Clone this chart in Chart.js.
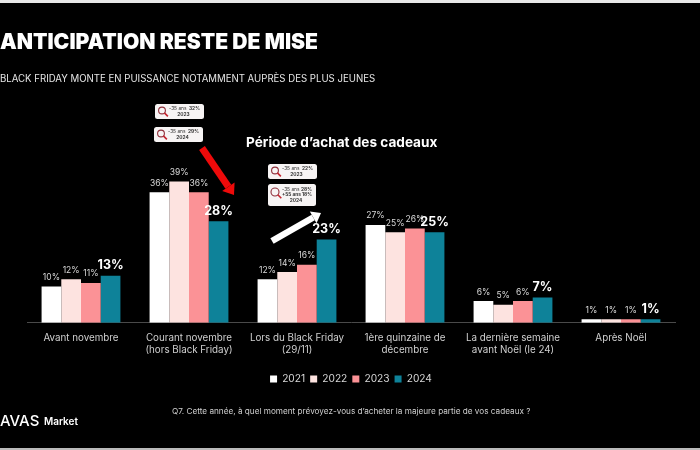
<!DOCTYPE html>
<html lang="fr">
<head>
<meta charset="utf-8">
<title>Période d'achat des cadeaux</title>
<script src="https://cdn.jsdelivr.net/npm/chart.js@4"></script>
<style>
    html, body { margin: 0; padding: 0; background: #000; }
    #page { position: relative; width: 700px; height: 450px; overflow: hidden; background: #000; font-family: Inter, sans-serif; color: #fff; }
    #page canvas { position: absolute; left: 0; top: 0; }
    .txt { position: absolute; white-space: nowrap; line-height: 1; }
    #edgeTop { position: absolute; left: 0; top: 0; width: 700px; height: 3px; background: #e8e8e8; }
    #edgeBottom { position: absolute; left: 0; top: 448px; width: 700px; height: 2px; background: #bbb; }
    #mainTitle { left: 0; top: 31px; font-size: 21.1px; font-weight: 900; }
    #subTitle { left: 0; top: 74px; font-size: 9.65px; color: #e6e6e6; }
    #chartTitle { left: 246px; top: 136px; font-size: 13.6px; font-weight: 700; }
    #question { left: 172px; top: 407px; font-size: 8.2px; color: #cfcfcf; }
    #logo { left: 0; top: 413px; font-size: 15px; font-weight: 500; }
    #logoSub { left: 44px; top: 416px; font-size: 10px; font-weight: 600; }
</style>
</head>
<body>
<div id="page">
    <canvas id="chartPeriode" width="700" height="450"></canvas>
    <div id="edgeTop"></div>
    <div id="edgeBottom"></div>
    <div class="txt" id="mainTitle">ANTICIPATION RESTE DE MISE</div>
    <div class="txt" id="subTitle">BLACK FRIDAY MONTE EN PUISSANCE NOTAMMENT AUPRÈS DES PLUS JEUNES</div>
    <div class="txt" id="chartTitle">Période d’achat des cadeaux</div>
    <div class="txt" id="question">Q7. Cette année, à quel moment prévoyez-vous d’acheter la majeure partie de vos cadeaux ?</div>
    <div class="txt" id="logo">AVAS</div>
    <div class="txt" id="logoSub">Market</div>
</div>
<script>
const categories = [
    'Avant novembre',
    ['Courant novembre', '(hors Black Friday)'],
    ['Lors du Black Friday', '(29/11)'],
    ['1ère quinzaine de', 'décembre'],
    ['La dernière semaine', 'avant Noël (le 24)'],
    'Après Noël'
];
const values2021 = [10, 36, 12, 27, 6, 1];
const values2022 = [12, 39, 14, 25, 5, 1];
const values2023 = [11, 36, 16, 26, 6, 1];
const values2024 = [13, 28, 23, 25, 7, 1];

const seriesColors = ['#ffffff', '#fde3e0', '#fb9296', '#0e8299'];

// Callouts next to the arrows
const callouts = [
    { x: 155, y: 104, w: 49, h: 15, lines: [['-35 ans', '32%'], ['2023']] },
    { x: 154, y: 127, w: 49, h: 15, lines: [['-35 ans', '29%'], ['2024']] },
    { x: 268, y: 164, w: 49, h: 15, lines: [['-35 ans', '22%'], ['2023']] },
    { x: 268, y: 184, w: 48, h: 22, lines: [['-35 ans', '28%'], ['+55 ans', '18%'], ['2024']] }
];

function drawArrow(ctx, x1, y1, x2, y2, width, head, color) {
    const a = Math.atan2(y2 - y1, x2 - x1);
    const bx = x2 - Math.cos(a) * head;
    const by = y2 - Math.sin(a) * head;
    ctx.strokeStyle = color;
    ctx.fillStyle = color;
    ctx.lineWidth = width;
    ctx.beginPath();
    ctx.moveTo(x1, y1);
    ctx.lineTo(bx, by);
    ctx.stroke();
    ctx.beginPath();
    ctx.moveTo(x2, y2);
    ctx.lineTo(bx - Math.sin(a) * head * 0.75, by + Math.cos(a) * head * 0.75);
    ctx.lineTo(bx + Math.sin(a) * head * 0.75, by - Math.cos(a) * head * 0.75);
    ctx.closePath();
    ctx.fill();
}

function drawCallout(ctx, c) {
    ctx.fillStyle = '#f7f4f4';
    ctx.beginPath();
    ctx.roundRect(c.x, c.y, c.w, c.h, 2.5);
    ctx.fill();

    // magnifier
    const r = c.h > 16 ? 4 : 3.4;
    const mx = c.x + 7;
    const my = c.y + (c.h > 16 ? 8 : 6.5);
    ctx.strokeStyle = '#8f2f3a';
    ctx.lineWidth = 1.1;
    ctx.beginPath();
    ctx.arc(mx, my, r, 0, Math.PI * 2);
    ctx.stroke();
    ctx.strokeStyle = '#c4242f';
    ctx.lineWidth = 1.6;
    ctx.beginPath();
    ctx.moveTo(mx + r * 0.7, my + r * 0.7);
    ctx.lineTo(mx + r * 0.7 + 3.5, my + r * 0.7 + 3.5);
    ctx.stroke();

    ctx.textBaseline = 'middle';
    const lineH = 5.8;
    const startY = c.y + (c.h - lineH * c.lines.length) / 2 + lineH / 2;
    c.lines.forEach((line, i) => {
        const y = startY + i * lineH;
        ctx.fillStyle = '#333';
        if (line.length === 2) {
            ctx.textAlign = 'left';
            ctx.font = (i === 1 ? '700 ' : '400 ') + '4.8px Inter, sans-serif';
            ctx.fillText(line[0], c.x + 14, y);
            ctx.font = '700 4.8px Inter, sans-serif';
            ctx.textAlign = 'right';
            ctx.fillText(line[1], c.x + c.w - 4, y);
        } else {
            ctx.textAlign = 'center';
            ctx.font = '700 4.8px Inter, sans-serif';
            ctx.fillText(line[0], c.x + c.w / 2 + 4, y);
        }
    });
}

const decorPlugin = {
    id: 'decor',
    afterDatasetsDraw(chart) {
        const ctx = chart.ctx;
        ctx.save();

        // value labels above the bars, latest year stands out
        chart.data.datasets.forEach((ds, i) => {
            const latest = i === chart.data.datasets.length - 1;
            chart.getDatasetMeta(i).data.forEach((bar, j) => {
                ctx.fillStyle = latest ? '#ffffff' : '#d8d8d8';
                ctx.font = latest ? '700 12.5px Inter, sans-serif' : '400 8.5px Inter, sans-serif';
                ctx.textAlign = 'center';
                ctx.textBaseline = 'middle';
                ctx.fillText(ds.data[j] + '%', bar.x, bar.y - (latest ? 10 : 9));
            });
        });

        drawArrow(ctx, 202, 148, 234, 195, 7, 10, '#ee0a0a');
        drawArrow(ctx, 272, 241, 321, 213, 6.5, 9, '#ffffff');
        callouts.forEach(c => drawCallout(ctx, c));
        ctx.restore();
    }
};

function buildDataset(label, data, color) {
    return { label, data, backgroundColor: color, borderWidth: 0, categoryPercentage: 0.73, barPercentage: 1 };
}

new Chart(document.getElementById('chartPeriode'), {
    type: 'bar',
    data: {
        labels: categories,
        datasets: [
            buildDataset('2021', values2021, seriesColors[0]),
            buildDataset('2022', values2022, seriesColors[1]),
            buildDataset('2023', values2023, seriesColors[2]),
            buildDataset('2024', values2024, seriesColors[3])
        ]
    },
    options: {
        responsive: false,
        animation: false,
        layout: { padding: { left: 27, right: 25, top: 143, bottom: 56 } },
        scales: {
            x: {
                grid: { display: false },
                border: { color: '#4a4a4a', width: 1 },
                ticks: { color: '#d0d0d0', font: { family: 'Inter', size: 9.8, lineHeight: 1.25 }, maxRotation: 0, autoSkip: false, padding: 1 },
                afterFit(scale) { scale.height = 46; }
            },
            y: { display: false, min: 0, max: 49.6 }
        },
        plugins: {
            tooltip: { enabled: false },
            legend: {
                position: 'bottom',
                labels: { color: '#d8d8d8', font: { family: 'Inter', size: 10.2 }, boxWidth: 7, boxHeight: 7, padding: 5 }
            }
        }
    },
    plugins: [decorPlugin]
});
</script>
</body>
</html>
